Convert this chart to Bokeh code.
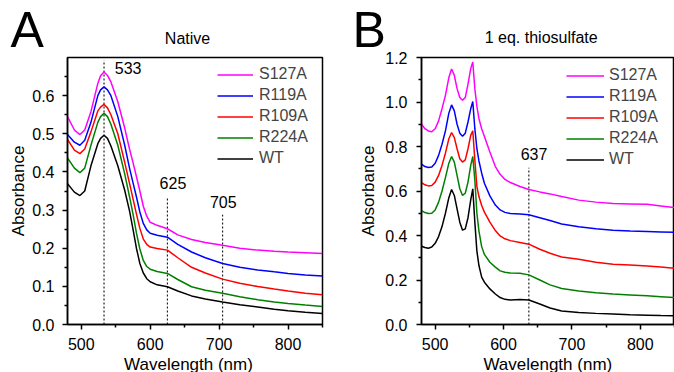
from bokeh.plotting import figure
from bokeh.layouts import row, column
from bokeh.models import Range1d, FixedTicker, PrintfTickFormatter, Label, Legend, LegendItem
from bokeh.embed import file_html
from bokeh.resources import INLINE

FONT = "Liberation Sans"

# ---------------- Panel A: Native ----------------
wl_a = [480, 490, 498, 505, 514, 524, 528, 533, 538, 543, 553, 563, 570, 575, 580, 585,
        590, 595, 600, 610, 625, 640, 660, 680, 705, 730, 756, 780, 800, 825, 850]
s127a_a = [0.545, 0.51, 0.498, 0.51, 0.558, 0.632, 0.652, 0.662, 0.653, 0.636, 0.584, 0.515, 0.46, 0.425,
           0.388, 0.35, 0.31, 0.284, 0.268, 0.26, 0.251, 0.235, 0.223, 0.215, 0.208, 0.2, 0.195, 0.192,
           0.19, 0.188, 0.186]
r119a_a = [0.498, 0.478, 0.47, 0.483, 0.53, 0.60, 0.615, 0.623, 0.615, 0.60, 0.545, 0.47, 0.41, 0.372,
           0.335, 0.295, 0.265, 0.248, 0.239, 0.234, 0.229, 0.21, 0.19, 0.175, 0.16, 0.15, 0.143, 0.138,
           0.134, 0.13, 0.127]
r109a_a = [0.485, 0.457, 0.448, 0.46, 0.505, 0.56, 0.57, 0.577, 0.568, 0.55, 0.50, 0.425, 0.37, 0.33,
           0.29, 0.252, 0.224, 0.21, 0.203, 0.199, 0.195, 0.175, 0.15, 0.135, 0.119, 0.108, 0.0995, 0.093,
           0.088, 0.082, 0.078]
r224a_a = [0.437, 0.41, 0.398, 0.41, 0.47, 0.53, 0.545, 0.554, 0.545, 0.525, 0.47, 0.395, 0.335, 0.29,
           0.24, 0.198, 0.168, 0.152, 0.145, 0.139, 0.134, 0.118, 0.099, 0.09, 0.082, 0.073, 0.065, 0.059,
           0.055, 0.051, 0.0475]
wt_a = [0.369, 0.347, 0.338, 0.35, 0.416, 0.474, 0.488, 0.496, 0.488, 0.468, 0.416, 0.352, 0.298, 0.25,
        0.2, 0.16, 0.135, 0.12, 0.112, 0.104, 0.099, 0.088, 0.075, 0.067, 0.059, 0.052, 0.046, 0.04,
        0.036, 0.032, 0.029]
marks_a = [533, 625, 705]
mark_tops_a = [0.693, 0.332, 0.288]
mark_labels_a = ["533", "625", "705"]
mark_label_x_a = [568, 633, 706]
mark_label_y_a = [0.672, 0.372, 0.3205]
yticks_a = [0.0, 0.1, 0.2, 0.3, 0.4, 0.5, 0.6]
yminor_a = [0.05, 0.15, 0.25, 0.35, 0.45, 0.55, 0.65]

# ---------------- Panel B: 1 eq. thiosulfate ----------------
wl_b = [480, 485, 490, 495, 500, 505, 510, 515, 520, 524, 528, 532, 536, 540, 544, 548, 552, 555,
        558, 561, 564, 568, 572, 580, 588, 595, 602, 610, 624, 637, 653, 668, 685, 710, 735, 760,
        785, 810, 830, 850]
s127a_b = [0.90, 0.88, 0.87, 0.866, 0.88, 0.915, 0.97, 1.03, 1.11, 1.148, 1.12, 1.06, 1.02, 1.008, 1.02,
           1.08, 1.15, 1.18,
           1.06, 0.98, 0.925, 0.88, 0.845, 0.775, 0.71, 0.675, 0.652, 0.638, 0.62, 0.607, 0.596, 0.587,
           0.575, 0.559, 0.55, 0.544, 0.542, 0.54, 0.533, 0.526]
r119a_b = [0.721, 0.71, 0.706, 0.708, 0.725, 0.76, 0.81, 0.87, 0.95, 0.987, 0.96, 0.9, 0.86, 0.846, 0.86,
           0.91, 0.97, 1.002,
           0.88, 0.79, 0.735, 0.68, 0.635, 0.578, 0.537, 0.515, 0.504, 0.499, 0.497, 0.493, 0.48, 0.467,
           0.452, 0.439, 0.43, 0.424, 0.42, 0.418, 0.416, 0.414]
r109a_b = [0.638, 0.628, 0.623, 0.625, 0.64, 0.67, 0.715, 0.77, 0.835, 0.863, 0.84, 0.79, 0.745, 0.73,
           0.74, 0.79, 0.85, 0.871,
           0.74, 0.62, 0.575, 0.535, 0.505, 0.46, 0.422, 0.398, 0.385, 0.377, 0.369, 0.361, 0.338, 0.32,
           0.303, 0.293, 0.28, 0.271, 0.267, 0.263, 0.258, 0.253]
r224a_b = [0.512, 0.503, 0.499, 0.50, 0.515, 0.55, 0.60, 0.66, 0.725, 0.755, 0.73, 0.67, 0.61, 0.58,
           0.59, 0.64, 0.715, 0.755,
           0.65, 0.50, 0.42, 0.35, 0.315, 0.28, 0.258, 0.241, 0.235, 0.231, 0.23, 0.223, 0.2, 0.178,
           0.162, 0.151, 0.143, 0.137, 0.133, 0.129, 0.125, 0.121]
wt_b = [0.352, 0.346, 0.343, 0.348, 0.365, 0.395, 0.44, 0.50, 0.57, 0.607, 0.58, 0.52, 0.46, 0.424,
        0.43, 0.48, 0.56, 0.61,
        0.46, 0.33, 0.265, 0.213, 0.19, 0.16, 0.137, 0.121, 0.113, 0.11, 0.112, 0.11, 0.092, 0.074,
        0.061, 0.054, 0.05, 0.047, 0.044, 0.042, 0.04, 0.039]
marks_b = [637]
mark_tops_b = [0.704]
mark_labels_b = ["637"]
mark_label_x_b = [644.6]
mark_label_y_b = [0.765]
yticks_b = [0.0, 0.2, 0.4, 0.6, 0.8, 1.0, 1.2]
yminor_b = [0.1, 0.3, 0.5, 0.7, 0.9, 1.1]

xticks = [500, 600, 700, 800]
xminor = [550, 650, 750, 850]
names = ["S127A", "R119A", "R109A", "R224A", "WT"]
colors = ["#FF00FF", "#0000FF", "#FF0000", "#008000", "#000000"]

W_A, W_B = 338, 336
H_HEAD, H_MAIN, H_FOOT = 51, 306, 15


def text_strip(width, height, texts):
    """A plain strip (no axes) whose data space equals its pixel space, holding texts."""
    s = figure(width=width, height=height, x_range=Range1d(0, width), y_range=Range1d(height, 0),
               x_axis_type=None, y_axis_type=None, output_backend="svg", toolbar_location=None,
               min_border=0, outline_line_color=None)
    s.grid.visible = False
    s.background_fill_color = "white"
    s.border_fill_color = "white"
    for txt, x, y, size, align in texts:
        s.add_layout(Label(x=x, y=y, text=txt, text_font=FONT, text_font_size=size,
                           text_align=align, text_baseline="middle", text_color="black"))
    return s


def make_panel(width, mbl, mbr, mbt, mbb, yend, yticks, yminor, series, wl,
               marks, tops, mlabels, mlx, mly, leg_loc, glyph_w, leg_standoff,
               tick_standoff, lab_standoff):
    p = figure(width=width, height=H_MAIN, x_range=Range1d(480, 850), y_range=Range1d(0, yend),
               output_backend="svg", toolbar_location=None,
               min_border_left=mbl, min_border_right=mbr, min_border_top=mbt, min_border_bottom=mbb)
    p.grid.visible = False
    p.background_fill_color = "white"
    p.border_fill_color = "white"
    p.outline_line_color = "black"
    p.outline_line_width = 1.5
    p.outline_line_alpha = 1.0

    for ax in (p.xaxis[0], p.yaxis[0]):
        ax.axis_line_color = "black"
        ax.axis_line_width = 1.5
        ax.major_tick_line_color = "black"
        ax.minor_tick_line_color = "black"
        ax.major_tick_line_width = 1.5
        ax.minor_tick_line_width = 1.5
        ax.major_tick_in = 0
        ax.major_tick_out = 5
        ax.minor_tick_in = 0
        ax.minor_tick_out = 3
        ax.major_label_text_font = FONT
        ax.major_label_text_font_size = "16px"
        ax.major_label_text_color = "black"

    p.xaxis.ticker = FixedTicker(ticks=xticks, minor_ticks=xminor)
    p.xaxis.formatter = PrintfTickFormatter(format="%d")
    p.xaxis.major_label_standoff = 8

    p.yaxis.ticker = FixedTicker(ticks=yticks, minor_ticks=yminor)
    p.yaxis.formatter = PrintfTickFormatter(format="%.1f")
    p.yaxis.major_label_standoff = tick_standoff
    p.yaxis.axis_label = "Absorbance"
    p.yaxis.axis_label_text_font = FONT
    p.yaxis.axis_label_text_font_size = "17px"
    p.yaxis.axis_label_text_font_style = "normal"
    p.yaxis.axis_label_text_color = "black"
    p.yaxis.axis_label_standoff = lab_standoff

    # reference wavelength markers
    for m, t in zip(marks, tops):
        p.segment(x0=[m], y0=[0], x1=[m], y1=[t], line_color="#222222", line_width=1.2,
                  line_dash="2 2")
    for txt, x, y in zip(mlabels, mlx, mly):
        p.add_layout(Label(x=x, y=y, text=txt, text_font=FONT, text_font_size="16px",
                           text_align="center", text_baseline="middle", text_color="black"))

    items = []
    for name, col, ys in zip(names, colors, series):
        r = p.line(wl, ys, line_color=col, line_width=1.5)
        items.append(LegendItem(label=name, renderers=[r]))

    leg = Legend(items=items, location=leg_loc, padding=0, spacing=0, margin=0,
                 glyph_width=glyph_w, glyph_height=21, label_height=21,
                 label_standoff=leg_standoff, label_text_font=FONT,
                 label_text_font_size="16px", border_line_alpha=0,
                 background_fill_alpha=0)
    p.add_layout(leg)
    return p


head_a = text_strip(W_A, H_HEAD, [("A", 10, 29, "50px", "left"),
                                  ("Native", 187, 38, "16px", "center")])
head_b = text_strip(W_B, H_HEAD, [("B", 14, 29, "50px", "left"),
                                  ("1 eq. thiosulfate", 202.7, 37, "16px", "center")])

pa = make_panel(W_A, 67, 16, 4, 32, 0.70, yticks_a, yminor_a,
                [s127a_a, r119a_a, r109a_a, r224a_a, wt_a], wl_a,
                marks_a, mark_tops_a, mark_labels_a, mark_label_x_a, mark_label_y_a,
                (150, 155.5), 36, 6, 8, 1)

pb = make_panel(W_B, 83, 0, 6, 33, 1.2, yticks_b, yminor_b,
                [s127a_b, r119a_b, r109a_b, r224a_b, wt_b], wl_b,
                marks_b, mark_tops_b, mark_labels_b, mark_label_x_b, mark_label_y_b,
                (145, 154.5), 38, 5, 9, 4)

foot_a = text_strip(W_A, H_FOOT, [("Wavelength (nm)", 188, 7.0, "17px", "center")])
foot_b = text_strip(W_B, H_FOOT, [("Wavelength (nm)", 209.3, 6.5, "17px", "center")])

layout = column(row(head_a, head_b), row(pa, pb), row(foot_a, foot_b))
open("out.html", "w").write(file_html(layout, INLINE))
